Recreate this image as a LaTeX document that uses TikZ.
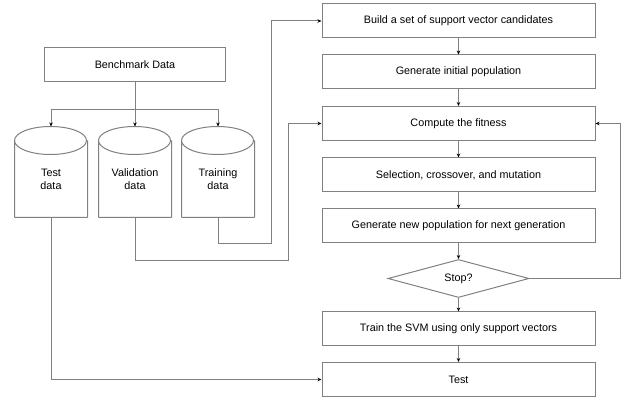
\documentclass[tikz,border=0pt]{standalone}
\usepackage{fontspec}
\setmainfont{Liberation Sans}
\usetikzlibrary{arrows.meta,shapes.geometric,calc}

\definecolor{edgegray}{RGB}{128,128,128}
\tikzset{every picture/.style={line width=0.75pt}}
\tikzset{
  stepbox/.style={draw=edgegray, rectangle, minimum width=204.75pt, minimum height=25.5pt, inner sep=0pt, font=\fontsize{8.1}{9.7}\selectfont},
  benchbox/.style={stepbox, minimum width=135.75pt},
  tank/.style={rectangle, minimum width=54pt, minimum height=57pt, inner sep=0pt, align=center, font=\fontsize{8.1}{9.7}\selectfont},
  stopnode/.style={draw=edgegray, diamond, minimum width=105.75pt, minimum height=27.75pt, inner sep=0pt, font=\fontsize{8.1}{9.7}\selectfont},
  line/.style={draw=edgegray},
  arr/.style={line, -{Stealth[length=3pt,width=2.6pt,color=black]}}
}

\begin{document}
\begin{tikzpicture}[x=0.75pt,y=0.75pt,yscale=-1,xscale=1]
\useasboundingbox (0,0) rectangle (622,399);

% Left: data
\node[benchbox] (bench) at (135,65) {Benchmark Data};
\node[tank] (testdata) at (51,179) {Test\\data};
\node[tank] (validdata) at (135,179) {Validation\\data};
\node[tank] (traindata) at (218,179) {Training\\data};
\coordinate (split) at (135,110);

%Shape: Cylinders
\draw[line] (testdata.south west) |- (testdata.north west) arc (-180:180:36 and 14) (testdata.south east) -- (testdata.north east) (testdata.south west) -- (testdata.south east);
\draw[line] (validdata.south west) |- (validdata.north west) arc (-180:180:36 and 14) (validdata.south east) -- (validdata.north east) (validdata.south west) -- (validdata.south east);
\draw[line] (traindata.south west) |- (traindata.north west) arc (-180:180:36 and 14) (traindata.south east) -- (traindata.north east) (traindata.south west) -- (traindata.south east);

% Right: steps
\node[stepbox] (build) at (458.5,21) {Build a set of support vector candidates};
\node[stepbox] (initpop) at (458.5,72) {Generate initial population};
\node[stepbox] (fitness) at (458.5,123.5) {Compute the fitness};
\node[stepbox] (select) at (458.5,175) {Selection, crossover, and mutation};
\node[stepbox] (newpop) at (458.5,226) {Generate new population for next generation};
\node[stopnode] (stop) at (458.5,278.5) {Stop?};
\node[stepbox] (trainsvm) at (458.5,329) {Train the SVM using only support vectors};
\node[stepbox] (testbox) at (458.5,379.5) {Test};

% Connectors
\draw[arr] (bench.south) -- ($(validdata.north)+(0,-14)$);
\draw[arr] (split) -| ($(testdata.north)+(0,-14)$);
\draw[arr] (split) -| ($(traindata.north)+(0,-14)$);

\draw[arr] (traindata.south) -- ++(0,26) -- ++(53,0) |- (build.west);
\draw[arr] (validdata.south) -- ++(0,43) -- ++(153,0) |- (fitness.west);
\draw[arr] (testdata.south) |- (testbox.west);

\draw[arr] (build) -- (initpop);
\draw[arr] (initpop) -- (fitness);
\draw[arr] (fitness) -- (select);
\draw[arr] (select) -- (newpop);
\draw[arr] (newpop) -- (stop);
\draw[arr] (stop) -- (trainsvm);
\draw[arr] (trainsvm) -- (testbox);
\draw[arr] (stop.east) -- ++(91,0) |- (fitness.east);

\end{tikzpicture}
\end{document}
